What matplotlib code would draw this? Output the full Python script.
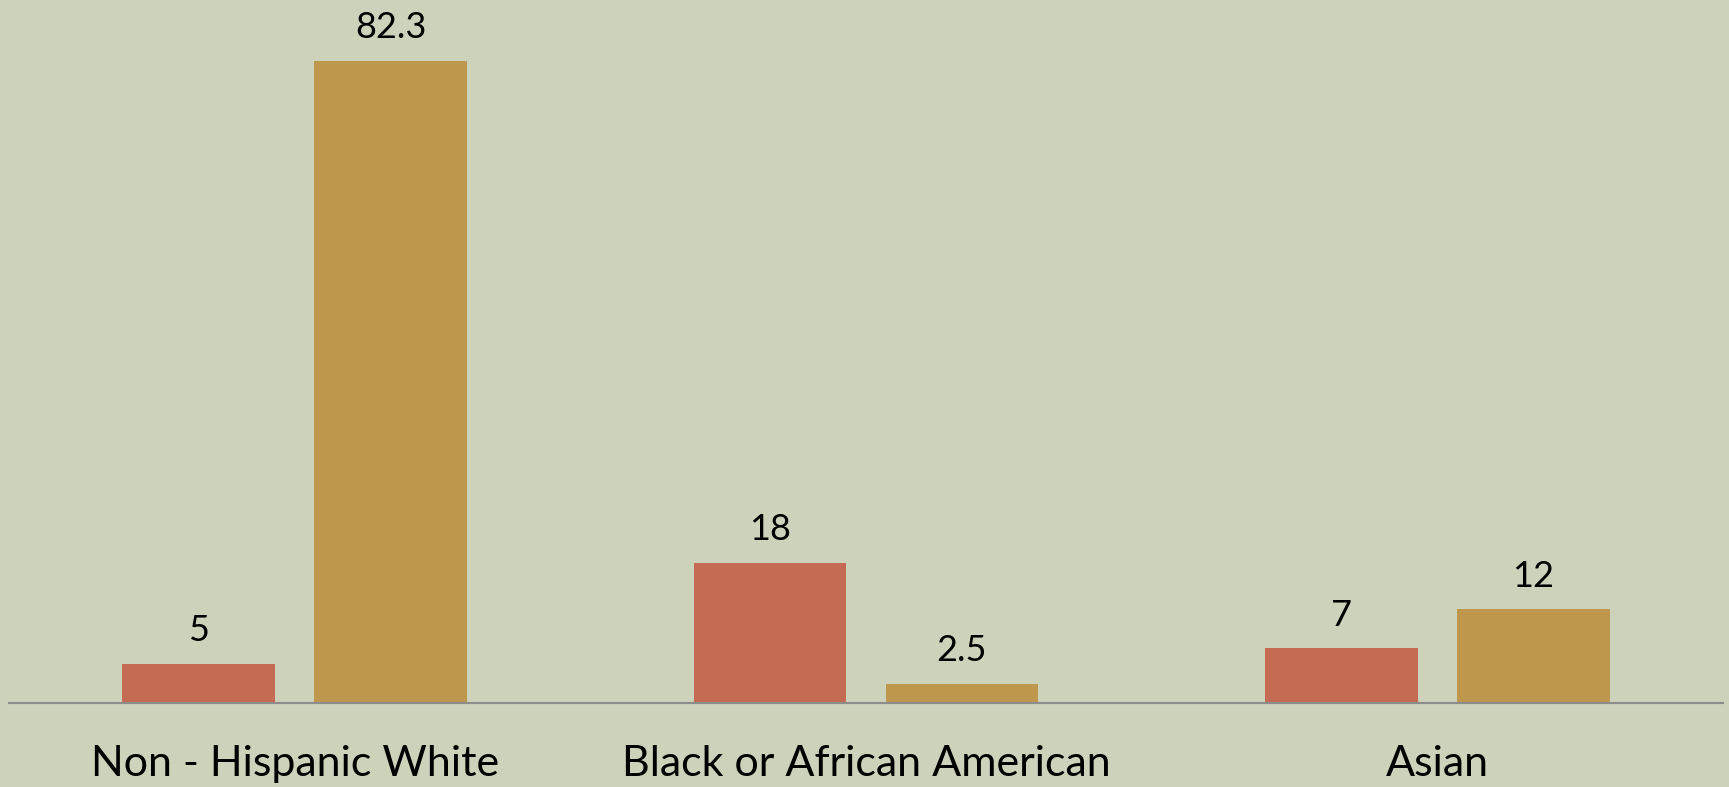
import numpy as np
import matplotlib.pyplot as plt

categories = ['Non - Hispanic White', 'Black or African American', 'Asian']
series_a = [5, 18, 7]
series_b = [82.3, 2.5, 12]

bg = '#CDD2BB'
col_a = '#C56A53'
col_b = '#BE964C'

plt.rcParams['font.family'] = ['Lato', 'DejaVu Sans']

fig = plt.figure(figsize=(17.29, 7.87), dpi=100, facecolor=bg)
ax = fig.add_axes([9 / 1729, 84 / 787, 1714 / 1729, 702 / 787])
ax.set_facecolor(bg)

x = np.arange(len(categories))
w = 0.267
off = 0.168
bars_a = ax.bar(x - off, series_a, w, color=col_a)
bars_b = ax.bar(x + off, series_b, w, color=col_b)

for bars in (bars_a, bars_b):
    ax.bar_label(bars, labels=[f'{v:g}' for v in bars.datavalues],
                 padding=12, fontsize=26)

ax.set_xlim(-0.5, 2.5)
ax.set_ylim(0, 90)
ax.set_yticks([])
ax.set_xticks(x)
ax.set_xticklabels(categories, fontsize=31)
ax.tick_params(axis='x', length=0, pad=30)
for s in ['top', 'right', 'left']:
    ax.spines[s].set_visible(False)
ax.spines['bottom'].set_color('#8C8C8C')
ax.spines['bottom'].set_linewidth(1.5)

fig.savefig('out.png', dpi=100, facecolor=bg)
